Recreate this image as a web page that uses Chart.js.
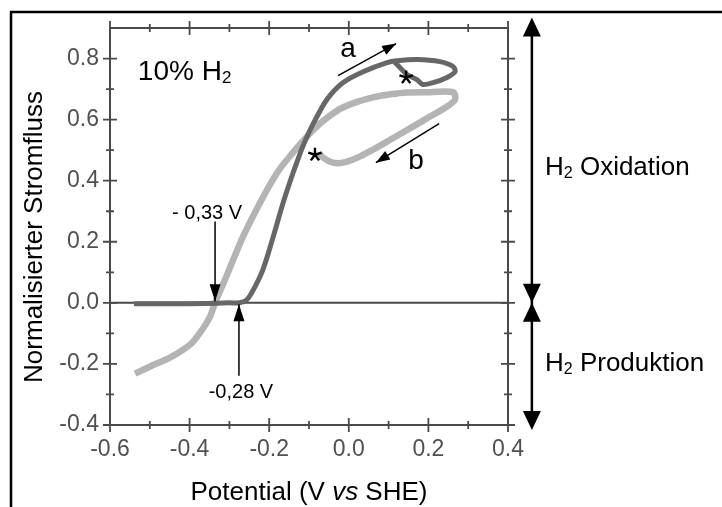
<!DOCTYPE html>
<html>
<head>
<meta charset="utf-8">
<title>Normalisierter Stromfluss</title>
<script src="https://cdn.jsdelivr.net/npm/chart.js@4.4.1/dist/chart.umd.min.js"></script>
<style>
  html, body { margin: 0; padding: 0; background: #fff; }
  #wrap { width: 722px; height: 507px; position: relative; }
</style>
</head>
<body>
<div id="wrap"><canvas id="cv" width="722" height="507"></canvas></div>
<script>
// Kurve a (dunkel, Hinlauf)
const aX = [-0.54, -0.45, -0.36, -0.30, -0.275, -0.258, -0.243, -0.216, -0.19, -0.165, -0.14, -0.125, -0.113, -0.09, -0.055, -0.015, 0.036, 0.096, 0.121, 0.171, 0.229, 0.262, 0.267, 0.247, 0.212, 0.186, 0.171, 0.146, 0.129, 0.116];
const aY = [-0.003, -0.003, -0.002, 0, 0, 0.008, 0.035, 0.108, 0.216, 0.328, 0.426, 0.48, 0.52, 0.585, 0.666, 0.721, 0.757, 0.787, 0.793, 0.797, 0.79, 0.774, 0.757, 0.738, 0.721, 0.715, 0.731, 0.748, 0.77, 0.787];
// Kurve b (hell)
const bX = [-0.537, -0.494, -0.462, -0.429, -0.394, -0.369, -0.349, -0.336, -0.319, -0.304, -0.266, -0.223, -0.18, -0.148, -0.115, -0.09, -0.065, -0.022, 0.021, 0.061, 0.104, 0.146, 0.204, 0.262, 0.267, 0.247, 0.204, 0.161, 0.104, 0.061, 0.021, -0.015, -0.04, -0.062, -0.075];
const bY = [-0.232, -0.205, -0.187, -0.164, -0.131, -0.089, -0.046, 0, 0.052, 0.098, 0.216, 0.328, 0.426, 0.48, 0.53, 0.565, 0.595, 0.635, 0.658, 0.673, 0.683, 0.689, 0.69, 0.69, 0.666, 0.643, 0.61, 0.577, 0.534, 0.502, 0.475, 0.459, 0.459, 0.473, 0.49];

const xTicks = [-0.6, -0.4, -0.2, 0.0, 0.2, 0.4];
const yTicks = [-0.4, -0.2, 0.0, 0.2, 0.4, 0.6, 0.8];
const xMinor = [-0.5, -0.3, -0.1, 0.1, 0.3];
const yMinor = [-0.3, -0.1, 0.1, 0.3, 0.5, 0.7];

const FONT = "'Liberation Sans', Arial, sans-serif";

function pts(xs, ys) { return xs.map((x, i) => ({ x: x, y: ys[i] })); }

// kleine Helfer
function arrowHead(ctx, x0, y0, x1, y1, len, half) {
  const ang = Math.atan2(y1 - y0, x1 - x0);
  ctx.beginPath();
  ctx.moveTo(x1, y1);
  ctx.lineTo(x1 - len * Math.cos(ang) + half * Math.sin(ang), y1 - len * Math.sin(ang) - half * Math.cos(ang));
  ctx.lineTo(x1 - len * Math.cos(ang) - half * Math.sin(ang), y1 - len * Math.sin(ang) + half * Math.cos(ang));
  ctx.closePath();
  ctx.fill();
}
function arrow(ctx, x0, y0, x1, y1, lw, len, half) {
  ctx.lineWidth = lw;
  ctx.beginPath();
  ctx.moveTo(x0, y0);
  ctx.lineTo(x1, y1);
  ctx.stroke();
  arrowHead(ctx, x0, y0, x1, y1, len, half);
}
function star(ctx, x, y, r) {
  ctx.lineWidth = 2.4;
  ctx.beginPath();
  for (let k = 0; k < 5; k++) {
    const a = -Math.PI / 2 + k * 2 * Math.PI / 5;
    ctx.moveTo(x, y);
    ctx.lineTo(x + r * Math.cos(a), y + r * Math.sin(a));
  }
  ctx.stroke();
}
function h2text(ctx, x, y, size, rest) {
  ctx.font = size + 'px ' + FONT;
  ctx.fillText('H', x, y);
  let w = ctx.measureText('H').width;
  ctx.font = Math.round(size * 0.6) + 'px ' + FONT;
  ctx.fillText('2', x + w, y + size * 0.12);
  w += ctx.measureText('2').width;
  ctx.font = size + 'px ' + FONT;
  ctx.fillText(rest, x + w, y);
}

const deko = {
  id: 'deko',
  beforeDatasetsDraw(chart) {
    const { ctx, chartArea: ca, scales: { y } } = chart;
    ctx.save();
    // Nulllinie
    ctx.strokeStyle = '#4a4a4a';
    ctx.lineWidth = 2;
    ctx.beginPath();
    ctx.moveTo(ca.left, y.getPixelForValue(0));
    ctx.lineTo(ca.right, y.getPixelForValue(0));
    ctx.stroke();
    ctx.restore();
  },
  afterDraw(chart) {
    const { ctx, chartArea: ca, scales: { x, y } } = chart;
    const px = v => x.getPixelForValue(v), py = v => y.getPixelForValue(v);
    ctx.save();

    // Rahmen aussen
    ctx.strokeStyle = '#000';
    ctx.lineWidth = 2.5;
    ctx.beginPath();
    ctx.moveTo(11, 507);
    ctx.lineTo(11, 12);
    ctx.lineTo(722, 12);
    ctx.stroke();

    // Achsenrahmen + Striche
    ctx.strokeStyle = '#4a4a4a';
    ctx.lineWidth = 2;
    ctx.strokeRect(ca.left, ca.top, ca.right - ca.left, ca.bottom - ca.top);
    ctx.lineWidth = 1.8;
    ctx.beginPath();
    xTicks.concat(xMinor).forEach(v => {
      const L = xTicks.includes(v) ? 7 : 4;
      ctx.moveTo(px(v), ca.bottom - L); ctx.lineTo(px(v), ca.bottom + L);
      ctx.moveTo(px(v), ca.top - L); ctx.lineTo(px(v), ca.top + L);
    });
    yTicks.concat(yMinor).forEach(v => {
      const L = yTicks.includes(v) ? 7 : 4;
      ctx.moveTo(ca.left - L, py(v)); ctx.lineTo(ca.left + L, py(v));
      ctx.moveTo(ca.right - L, py(v)); ctx.lineTo(ca.right + L, py(v));
    });
    ctx.stroke();

    // Achsentitel
    ctx.fillStyle = '#000';
    ctx.textBaseline = 'alphabetic';
    const parts = [['Potential (V ', 'normal'], ['vs', 'italic'], [' SHE)', 'normal']];
    let total = 0;
    parts.forEach(p => { ctx.font = p[1] + ' 26px ' + FONT; total += ctx.measureText(p[0]).width; });
    let cx = (ca.left + ca.right) / 2 - total / 2;
    parts.forEach(p => { ctx.font = p[1] + ' 26px ' + FONT; ctx.fillText(p[0], cx, 500); cx += ctx.measureText(p[0]).width; });

    ctx.save();
    ctx.translate(42, 237);
    ctx.rotate(-Math.PI / 2);
    ctx.font = '26px ' + FONT;
    ctx.textAlign = 'center';
    ctx.fillText('Normalisierter Stromfluss', 0, 0);
    ctx.restore();

    // "10% H2"
    ctx.textAlign = 'left';
    ctx.font = '28px ' + FONT;
    const x0 = px(-0.53), y0 = py(0.731);
    const w = ctx.measureText('10% ').width;
    ctx.fillText('10% ', x0, y0);
    h2text(ctx, x0 + w, y0, 28, '');

    ctx.textAlign = 'center';
    ctx.textBaseline = 'middle';
    ctx.font = '20px ' + FONT;
    ctx.fillText('- 0,33 V', px(-0.356), py(0.292));
    ctx.fillText('-0,28 V', px(-0.271), py(-0.292));
    ctx.font = '28px ' + FONT;
    ctx.fillText('a', px(-0.002), py(0.83));
    ctx.fillText('b', px(0.169), py(0.465));

    ctx.fillStyle = '#000';
    ctx.strokeStyle = '#000';
    arrow(ctx, px(-0.336), py(0.266), px(-0.336), py(0.005), 1.5, 17, 5.5);
    arrow(ctx, px(-0.276), py(-0.239), px(-0.276), py(-0.005), 1.5, 17, 5.5);
    arrow(ctx, px(-0.027), py(0.744), px(0.119), py(0.849), 1.5, 14, 5);
    arrow(ctx, px(0.227), py(0.587), px(0.068), py(0.459), 1.5, 14, 5);

    star(ctx, px(0.144), py(0.738), 7);
    star(ctx, px(-0.085), py(0.485), 7);

    // Rechte Pfeile
    const ax = px(0.46);
    ctx.lineWidth = 2.5;
    ctx.beginPath();
    ctx.moveTo(ax, py(0.90)); ctx.lineTo(ax, py(-0.38));
    ctx.stroke();
    arrowHead(ctx, ax, py(0.5), ax, py(0.934), 19, 9);
    arrowHead(ctx, ax, py(0.5), ax, py(0.0), 19, 9);
    arrowHead(ctx, ax, py(-0.2), ax, py(0.0), 19, 9);
    arrowHead(ctx, ax, py(-0.2), ax, py(-0.416), 19, 9);

    ctx.textAlign = 'left';
    ctx.textBaseline = 'alphabetic';
    h2text(ctx, px(0.493), py(0.419), 26, ' Oxidation');
    h2text(ctx, px(0.493), py(-0.223), 26, ' Produktion');

    ctx.restore();
  }
};

new Chart(document.getElementById('cv'), {
  type: 'scatter',
  data: {
    datasets: [
      { label: 'a', data: pts(aX, aY), showLine: true, borderColor: '#676767', borderWidth: 5, pointRadius: 0, tension: 0.3, fill: false },
      { label: 'b', data: pts(bX, bY), showLine: true, borderColor: '#b4b4b4', borderWidth: 6.5, pointRadius: 0, tension: 0.3, fill: false }
    ]
  },
  options: {
    responsive: false,
    animation: false,
    events: [],
    layout: { padding: { left: 0, top: 28, right: 214, bottom: 0 } },
    plugins: { legend: { display: false }, tooltip: { enabled: false } },
    scales: {
      x: {
        type: 'linear', min: -0.6, max: 0.4,
        grid: { display: false, drawTicks: false },
        border: { display: false },
        afterBuildTicks: s => { s.ticks = xTicks.map(v => ({ value: v })); },
        afterFit: s => { s.height = 82; },
        ticks: { padding: 11, color: '#505050', font: { size: 23, family: FONT }, callback: v => v.toFixed(1) }
      },
      y: {
        type: 'linear', min: -0.4, max: 0.9,
        grid: { display: false, drawTicks: false },
        border: { display: false },
        afterBuildTicks: s => { s.ticks = yTicks.map(v => ({ value: v })); },
        afterFit: s => { s.width = 110; },
        ticks: { padding: 11, color: '#505050', font: { size: 23, family: FONT }, callback: v => v.toFixed(1) }
      }
    }
  },
  plugins: [deko]
});
</script>
</body>
</html>
